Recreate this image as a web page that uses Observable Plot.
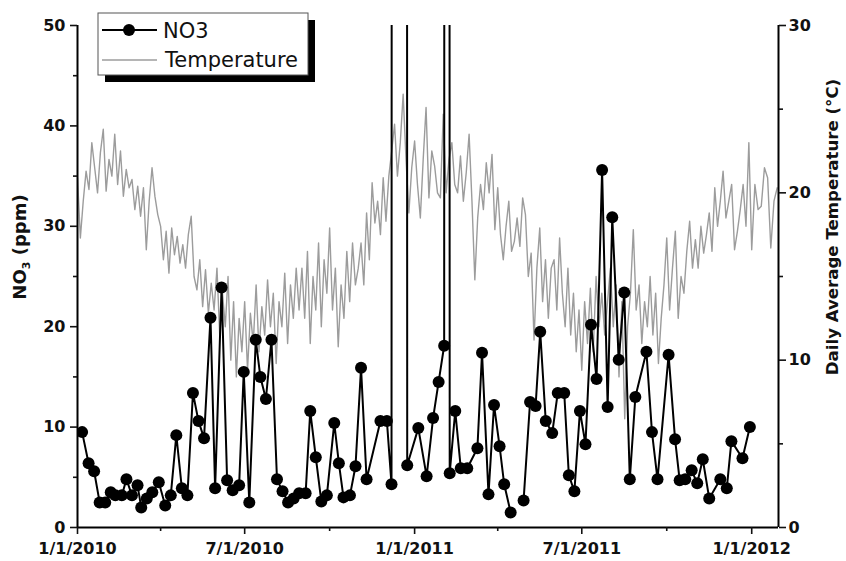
<!DOCTYPE html>
<html>
<head>
<meta charset="utf-8">
<script src="https://cdn.jsdelivr.net/npm/d3@7"></script>
<script src="https://cdn.jsdelivr.net/npm/@observablehq/plot@0.6"></script>
<style>
  html, body { margin: 0; padding: 0; background: #fff; }
</style>
</head>
<body>
<div id="chart"></div>
<script>
// ---------- NO3 samples (ppm); values > 50 are off-scale spikes, null = gap ----------
const no3Dates = [
  "2010-01-06","2010-01-13","2010-01-19","2010-01-25","2010-01-31","2010-02-06","2010-02-11","2010-02-18","2010-02-23",
  "2010-03-01","2010-03-07","2010-03-11","2010-03-17","2010-03-23","2010-03-30","2010-04-06","2010-04-12","2010-04-18",
  "2010-04-24","2010-04-30","2010-05-06","2010-05-12","2010-05-18","2010-05-25","2010-05-30","2010-06-06","2010-06-12",
  "2010-06-18","2010-06-25","2010-06-30","2010-07-06","2010-07-13","2010-07-18","2010-07-24","2010-07-30","2010-08-05",
  "2010-08-11","2010-08-17","2010-08-23","2010-08-29","2010-09-05","2010-09-10","2010-09-16","2010-09-22","2010-09-28",
  "2010-10-06","2010-10-11","2010-10-16","2010-10-23","2010-10-29","2010-11-04","2010-11-10","2010-11-25","2010-12-02",
  "2010-12-07","2010-12-08","2010-12-23","2010-12-24","2011-01-05","2011-01-14","2011-01-21","2011-01-27","2011-02-02",
  "2011-02-03","2011-02-07","2011-02-08","2011-02-14","2011-02-20","2011-02-27","2011-03-10","2011-03-15","2011-03-22",
  "2011-03-28","2011-04-03","2011-04-08","2011-04-15","2011-04-22","2011-04-29","2011-05-06","2011-05-12","2011-05-17",
  "2011-05-23","2011-05-30","2011-06-05","2011-06-12","2011-06-17","2011-06-23","2011-06-29","2011-07-05","2011-07-11",
  "2011-07-17","2011-07-23","2011-07-29","2011-08-03","2011-08-10","2011-08-16","2011-08-22","2011-08-28","2011-09-09",
  "2011-09-15","2011-09-21","2011-10-03","2011-10-10","2011-10-15","2011-10-21","2011-10-28","2011-11-03","2011-11-09",
  "2011-11-16","2011-11-28","2011-12-05","2011-12-10","2011-12-22","2011-12-30"
];
const no3Values = [
  9.5, 6.4, 5.6, 2.5, 2.5, 3.5, 3.2, 3.2, 4.8,
  3.2, 4.2, 2.0, 2.9, 3.5, 4.5, 2.2, 3.2, 9.2,
  3.9, 3.2, 13.4, 10.6, 8.9, 20.9, 3.9, 23.9, 4.7,
  3.7, 4.2, 15.5, 2.5, 18.7, 15.0, 12.8, 18.7, 4.8,
  3.6, 2.5, 2.9, 3.4, 3.4, 11.6, 7.0, 2.6, 3.2,
  10.4, 6.4, 3.0, 3.2, 6.1, 15.9, 4.8, 10.6, 10.6,
  4.3, 300, 300, 6.2, 9.9, 5.1, 10.9, 14.5, 18.1,
  300, 300, 5.4, 11.6, 5.9, 5.9, 7.9, 17.4, 3.3,
  12.2, 8.1, 4.3, 1.5, null, 2.7, 12.5, 12.1, 19.5,
  10.6, 9.4, 13.4, 13.4, 5.2, 3.6, 11.6, 8.3, 20.2,
  14.8, 35.6, 12.0, 30.9, 16.7, 23.4, 4.8, 13.0, 17.5,
  9.5, 4.8, 17.2, 8.8, 4.7, 4.8, 5.7, 4.4, 6.8,
  2.9, 4.8, 3.9, 8.6, 6.9, 10.0
];

// ---------- Daily average temperature (°C), read month by month ----------
const tempMonths = [
  "2010-01","2010-02","2010-03","2010-04","2010-05","2010-06","2010-07","2010-08","2010-09","2010-10","2010-11","2010-12",
  "2011-01","2011-02","2011-03","2011-04","2011-05","2011-06","2011-07","2011-08","2011-09","2011-10","2011-11","2011-12",
  "2012-01"
];
const tempValues = [
  [20.9, 17.3, 19.5, 21.3, 20.2, 23.0, 21.5, 20.0, 22.4, 23.8],
  [20.1, 22.0, 21.0, 23.5, 20.5, 22.5, 19.8, 21.4, 20.3],
  [20.8, 19.0, 20.4, 18.6, 20.3, 16.6, 19.5, 21.5, 19.8, 18.7],
  [18.0, 16.0, 17.7, 15.2, 17.9, 16.3, 17.4, 15.8, 16.9, 15.5],
  [17.5, 18.6, 15.0, 14.2, 16.0, 13.2, 15.4, 12.8, 14.6, 13.0],
  [15.5, 11.5, 14.0, 12.0, 15.0, 10.0, 13.5, 9.0, 12.5, 10.5],
  [13.5, 9.4, 12.8, 11.0, 14.5, 10.5, 13.2, 11.5, 14.8, 12.0],
  [14.0, 9.8, 13.5, 12.0, 15.2, 11.0, 14.5, 12.5, 15.5, 13.0],
  [15.5, 12.5, 16.5, 11.0, 15.0, 13.0, 17.0, 12.0, 16.0, 14.0],
  [17.9, 13.0, 15.5, 10.8, 14.5, 12.5, 16.5, 13.5, 17.0, 14.5],
  [15.5, 17.0, 14.5, 18.8, 16.0, 20.6, 18.2, 19.5, 17.5, 20.9],
  [18.3, 21.0, 22.5, 24.1, 21.0, 23.0, 25.9, 22.0, 18.8, 21.5],
  [23.1, 20.5, 18.5, 22.0, 25.1, 19.7, 22.5, 21.6, 20.0, 19.7],
  [24.7, 20.0, 22.0, 23.0, 20.5, 20.0, 22.2, 19.5, 21.2],
  [23.5, 19.5, 14.8, 18.5, 20.5, 19.0, 21.8, 20.0, 22.3, 17.8],
  [20.3, 17.5, 16.0, 18.0, 19.5, 16.5, 17.1, 18.5, 16.8, 19.7],
  [18.7, 15.0, 16.4, 11.2, 15.5, 17.9, 13.5, 16.0, 12.5, 15.5],
  [16.0, 13.0, 17.3, 14.0, 12.0, 15.5, 11.5, 14.0, 10.5, 13.0],
  [9.4, 13.5, 11.0, 14.3, 10.5, 15.0, 12.0, 14.0, 11.5, 13.5],
  [15.5, 12.0, 14.5, 9.0, 13.5, 6.5, 12.0, 14.0, 17.8, 13.0],
  [14.5, 11.0, 13.5, 12.0, 15.0, 11.5, 14.0, 9.8, 12.5, 14.5],
  [17.3, 13.0, 15.5, 17.7, 12.5, 15.0, 14.0, 16.5, 18.3, 15.5],
  [17.2, 15.5, 18.0, 16.4, 17.5, 18.8, 16.5, 20.3, 18.0, 19.5],
  [21.3, 18.5, 19.5, 20.5, 16.6, 17.7, 19.0, 20.5, 18.0, 23.0],
  [16.6, 20.5, 19.0, 19.2, 21.5, 20.9, 16.7, 19.5, 20.3]
];

// ---------- Axes ----------
const no3Ticks = [0, 10, 20, 30, 40, 50];
const no3MinorTicks = [5, 15, 25, 35, 45];
const tempTicks = [0, 10, 20, 30];
const tempMinorTicks = [5, 15, 25];
const xMajorTicks = ["2010-01-01", "2010-07-01", "2011-01-01", "2011-07-01", "2012-01-01"];
const xMinorTicks = ["2010-04-01", "2010-10-01", "2011-04-01", "2011-10-01"];
const xDomain = ["2010-01-01", "2012-01-30"];
const legendLabels = ["NO3", "Temperature"];

// ---------- Build tables ----------
const parse = s => new Date(s + "T00:00:00Z");
const no3 = no3Dates.map((d, i) => ({date: parse(d), value: no3Values[i]}));
const temp = [];
tempMonths.forEach((m, k) => {
  const start = parse(m + "-01");
  const next = new Date(Date.UTC(start.getUTCFullYear(), start.getUTCMonth() + 1, 1));
  const span = next - start;
  const vals = tempValues[k];
  vals.forEach((v, i) => temp.push({date: new Date(+start + span * i / vals.length), t: v}));
});
const T2Y = 50 / 30; // temperature -> left-axis units

const fmtDate = d => `${d.getUTCMonth() + 1}/${d.getUTCDate()}/${d.getUTCFullYear()}`;

const chart = Plot.plot({
  width: 846,
  height: 561,
  marginLeft: 77,
  marginRight: 68,
  marginTop: 25,
  marginBottom: 34,
  style: {fontFamily: "'DejaVu Sans', sans-serif", fontSize: "16px", fontWeight: "bold", color: "#111", background: "#fff"},
  x: {type: "utc", domain: xDomain.map(parse)},
  y: {domain: [0, 50]},
  marks: [
    Plot.line(temp, {x: "date", y: d => d.t * T2Y, stroke: "#9c9c9c", strokeWidth: 1.4, clip: true}),
    Plot.line(no3, {x: "date", y: "value", stroke: "#000", strokeWidth: 2, clip: true}),
    Plot.dot(no3, {x: "date", y: "value", r: 6, fill: "#000", stroke: "none", clip: true}),
    // frame lines
    Plot.ruleY([0], {stroke: "#000", strokeWidth: 2}),
    Plot.ruleX([parse(xDomain[0]), parse(xDomain[1])], {stroke: "#000", strokeWidth: 2}),
    // left axis
    Plot.axisY({anchor: "left", ticks: no3Ticks, tickSize: 7, tickPadding: 5, strokeWidth: 1.6, label: null}),
    Plot.axisY({anchor: "left", ticks: no3MinorTicks, tickSize: 4, tickFormat: () => "", strokeWidth: 1.6, label: null}),
    // right axis (temperature)
    Plot.axisY({anchor: "right", ticks: tempTicks.map(t => t * T2Y), tickFormat: v => String(Math.round(v / T2Y)), tickSize: 7, tickPadding: 3, strokeWidth: 1.6, label: null}),
    Plot.axisY({anchor: "right", ticks: tempMinorTicks.map(t => t * T2Y), tickFormat: () => "", tickSize: 4, strokeWidth: 1.6, label: null}),
    // x axis
    Plot.axisX({ticks: xMajorTicks.map(parse), tickFormat: fmtDate, tickSize: 7, tickPadding: 8, strokeWidth: 1.6, label: null}),
    Plot.axisX({ticks: xMinorTicks.map(parse), tickFormat: () => "", tickSize: 4, strokeWidth: 1.6, label: null})
  ]
});

const svg = d3.select(chart);
const font = "'DejaVu Sans', sans-serif";

// axis titles
const leftTitle = svg.append("text")
  .attr("transform", "translate(26,247) rotate(-90)")
  .attr("text-anchor", "middle")
  .style("font-family", font)
  .style("font-size", "18px").style("font-weight", "bold").attr("fill", "#111");
leftTitle.append("tspan").text("NO");
leftTitle.append("tspan").text("3").attr("dy", 4).style("font-size", "11px");
leftTitle.append("tspan").text(" (ppm)").attr("dy", -4);

svg.append("text")
  .attr("transform", "translate(838,227) rotate(-90)")
  .attr("text-anchor", "middle")
  .style("font-family", font)
  .style("font-size", "16.6px").style("font-weight", "bold").attr("fill", "#111")
  .text("Daily Average Temperature (°C)");

// legend
const lg = svg.append("g").attr("text-anchor", "start");
lg.append("rect").attr("x", 105).attr("y", 20).attr("width", 210).attr("height", 62).attr("fill", "#000");
lg.append("rect").attr("x", 98).attr("y", 13).attr("width", 210).attr("height", 62).attr("fill", "#fff").attr("stroke", "#555").attr("stroke-width", 1);
lg.append("line").attr("x1", 102).attr("x2", 157).attr("y1", 30).attr("y2", 30).attr("stroke", "#000").attr("stroke-width", 2);
lg.append("circle").attr("cx", 129).attr("cy", 30).attr("r", 6).attr("fill", "#000");
lg.append("line").attr("x1", 102).attr("x2", 157).attr("y1", 60).attr("y2", 60).attr("stroke", "#9c9c9c").attr("stroke-width", 1.5);
lg.append("text").attr("x", 163).attr("y", 38).attr("text-anchor", "start").text(legendLabels[0])
  .style("font-family", font).style("font-size", "21px").style("font-weight", "normal").attr("fill", "#111");
lg.append("text").attr("x", 165).attr("y", 67).attr("text-anchor", "start").text(legendLabels[1])
  .style("font-family", font).style("font-size", "21px").style("font-weight", "normal").attr("fill", "#111");

document.getElementById("chart").appendChild(chart);
</script>
</body>
</html>
